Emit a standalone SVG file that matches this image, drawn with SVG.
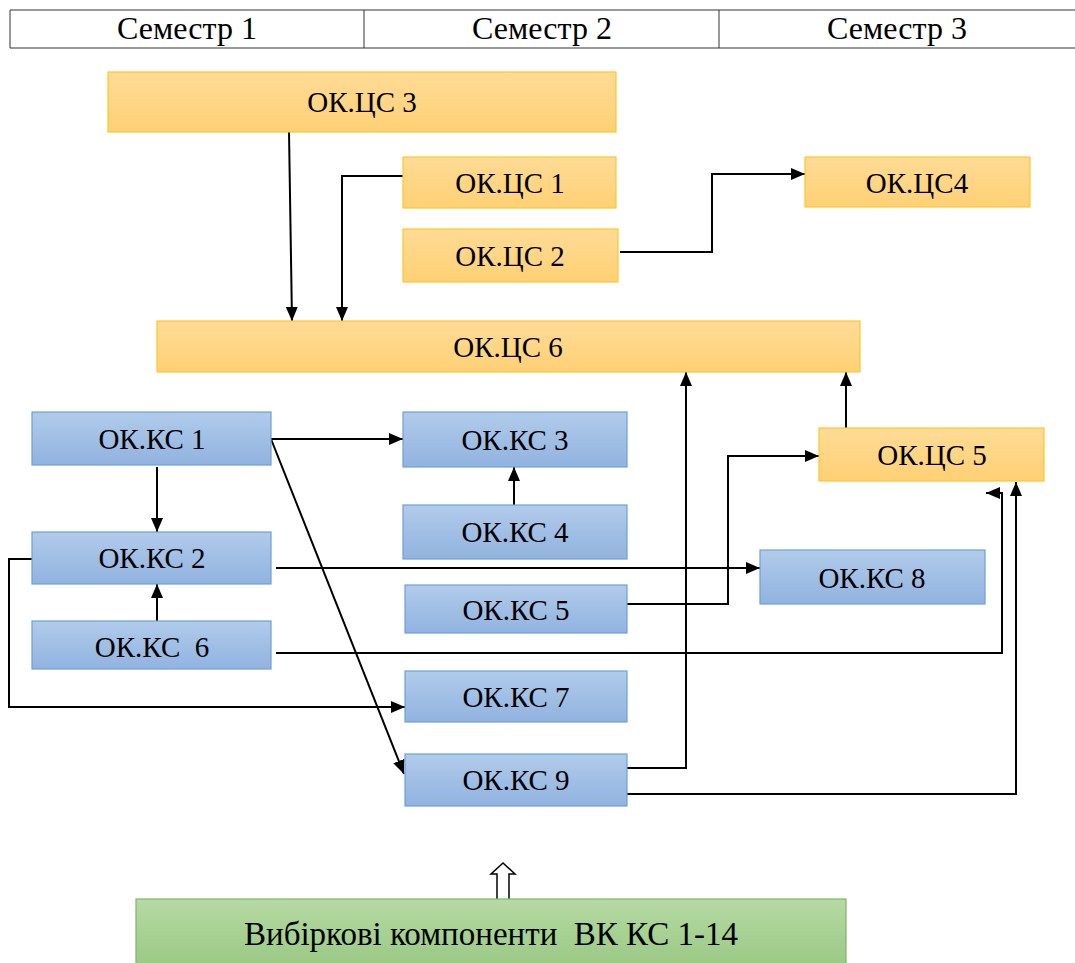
<svg xmlns="http://www.w3.org/2000/svg" width="1075" height="963" viewBox="0 0 1075 963">
<defs>
<linearGradient id="gO" x1="0" y1="0" x2="0" y2="1"><stop offset="0" stop-color="#FFDB96"/><stop offset="1" stop-color="#FFD175"/></linearGradient>
<linearGradient id="gB" x1="0" y1="0" x2="0" y2="1"><stop offset="0" stop-color="#B1CBEA"/><stop offset="1" stop-color="#91B3E0"/></linearGradient>
<linearGradient id="gG" x1="0" y1="0" x2="0" y2="1"><stop offset="0" stop-color="#B5DAA3"/><stop offset="1" stop-color="#9BC985"/></linearGradient>
<marker id="ah" viewBox="0 0 14 12" refX="14" refY="6" markerWidth="14" markerHeight="12" markerUnits="userSpaceOnUse" orient="auto"><path d="M0,0 L14,6 L0,12 Z" fill="#000"/></marker>
</defs>
<style>
text{font-family:'Liberation Serif','Times New Roman',Tinos,'DejaVu Serif',serif;font-size:29px;fill:#000;text-anchor:middle;white-space:pre}
.hd{font-size:32px}
.o{fill:url(#gO);stroke:#FFC52E;stroke-width:1.2}
.b{fill:url(#gB);stroke:#6E9FD9;stroke-width:1.2}
.g{fill:url(#gG);stroke:#7DB862;stroke-width:1.2}
.c{fill:none;stroke:#000;stroke-width:2;marker-end:url(#ah)}
.h{fill:none;stroke:#333;stroke-width:1}
</style>
<rect width="1075" height="963" fill="#fff"/>
<g id="header">
<path class="h" d="M10,10 H1075 M10,48 H1075 M10,10 V48 M364,10 V48 M719,10 V48"/>
<text class="hd" x="187" y="39">Семестр 1</text>
<text class="hd" x="542" y="39">Семестр 2</text>
<text class="hd" x="897" y="39">Семестр 3</text>
</g>
<g id="connectors">
<path class="c" d="M289,132 L292,321"/>
<path class="c" d="M403,176 H342 V321"/>
<path class="c" d="M620,252 H712 V174 H805"/>
<path class="c" d="M271,439 H403"/>
<path class="c" d="M271,439 L404,774"/>
<path class="c" d="M157,467 V532"/>
<path class="c" d="M157,621 V584"/>
<path class="c" d="M514,505 V467"/>
<path class="c" d="M32,559 H9 V707 H405"/>
<path class="c" d="M276,568 H760"/>
<path class="c" d="M627,604 H728 V456 H819"/>
<path class="c" d="M276,653 H1002 V493 H986"/>
<path class="c" d="M627,768 H686 V372"/>
<path class="c" d="M627,794 H1016 V482"/>
<path class="c" d="M846,428 V372"/>
<path d="M497,899 V874 H491 L503,863 L515,874 H509 V899" fill="#fff" stroke="#000" stroke-width="1.5"/>
</g>
<g id="okcs3"><rect class="o" x="108" y="72" width="508" height="60"/><text x="362" y="112">ОК.ЦС 3</text></g>
<g id="okcs1"><rect class="o" x="403" y="157" width="213" height="51"/><text x="510" y="193">ОК.ЦС 1</text></g>
<g id="okcs2"><rect class="o" x="403" y="229" width="215" height="53"/><text x="510" y="266">ОК.ЦС 2</text></g>
<g id="okcs4"><rect class="o" x="805" y="157" width="225" height="50"/><text x="917" y="193">ОК.ЦС4</text></g>
<g id="okcs6"><rect class="o" x="157" y="321" width="703" height="51"/><text x="508" y="357">ОК.ЦС 6</text></g>
<g id="okcs5"><rect class="o" x="819" y="428" width="225" height="53"/><text x="932" y="465">ОК.ЦС 5</text></g>
<g id="okks1"><rect class="b" x="32" y="412" width="239" height="53"/><text x="152" y="449">ОК.КС 1</text></g>
<g id="okks2"><rect class="b" x="32" y="532" width="239" height="52"/><text x="152" y="568">ОК.КС 2</text></g>
<g id="okks6"><rect class="b" x="32" y="621" width="239" height="48"/><text x="152" y="657">ОК.КС  6</text></g>
<g id="okks3"><rect class="b" x="403" y="412" width="224" height="55"/><text x="515" y="450">ОК.КС 3</text></g>
<g id="okks4"><rect class="b" x="403" y="505" width="224" height="54"/><text x="515" y="542">ОК.КС 4</text></g>
<g id="okks5"><rect class="b" x="405" y="585" width="222" height="48"/><text x="516" y="620">ОК.КС 5</text></g>
<g id="okks7"><rect class="b" x="405" y="671" width="222" height="51"/><text x="516" y="707">ОК.КС 7</text></g>
<g id="okks9"><rect class="b" x="405" y="754" width="222" height="52"/><text x="516" y="790">ОК.КС 9</text></g>
<g id="okks8"><rect class="b" x="760" y="550" width="225" height="54"/><text x="872" y="588">ОК.КС 8</text></g>
<g id="vk"><rect class="g" x="136" y="899" width="710" height="66"/><text x="491" y="945" style="font-size:33px">Вибіркові компоненти  ВК КС 1-14</text></g>
</svg>
